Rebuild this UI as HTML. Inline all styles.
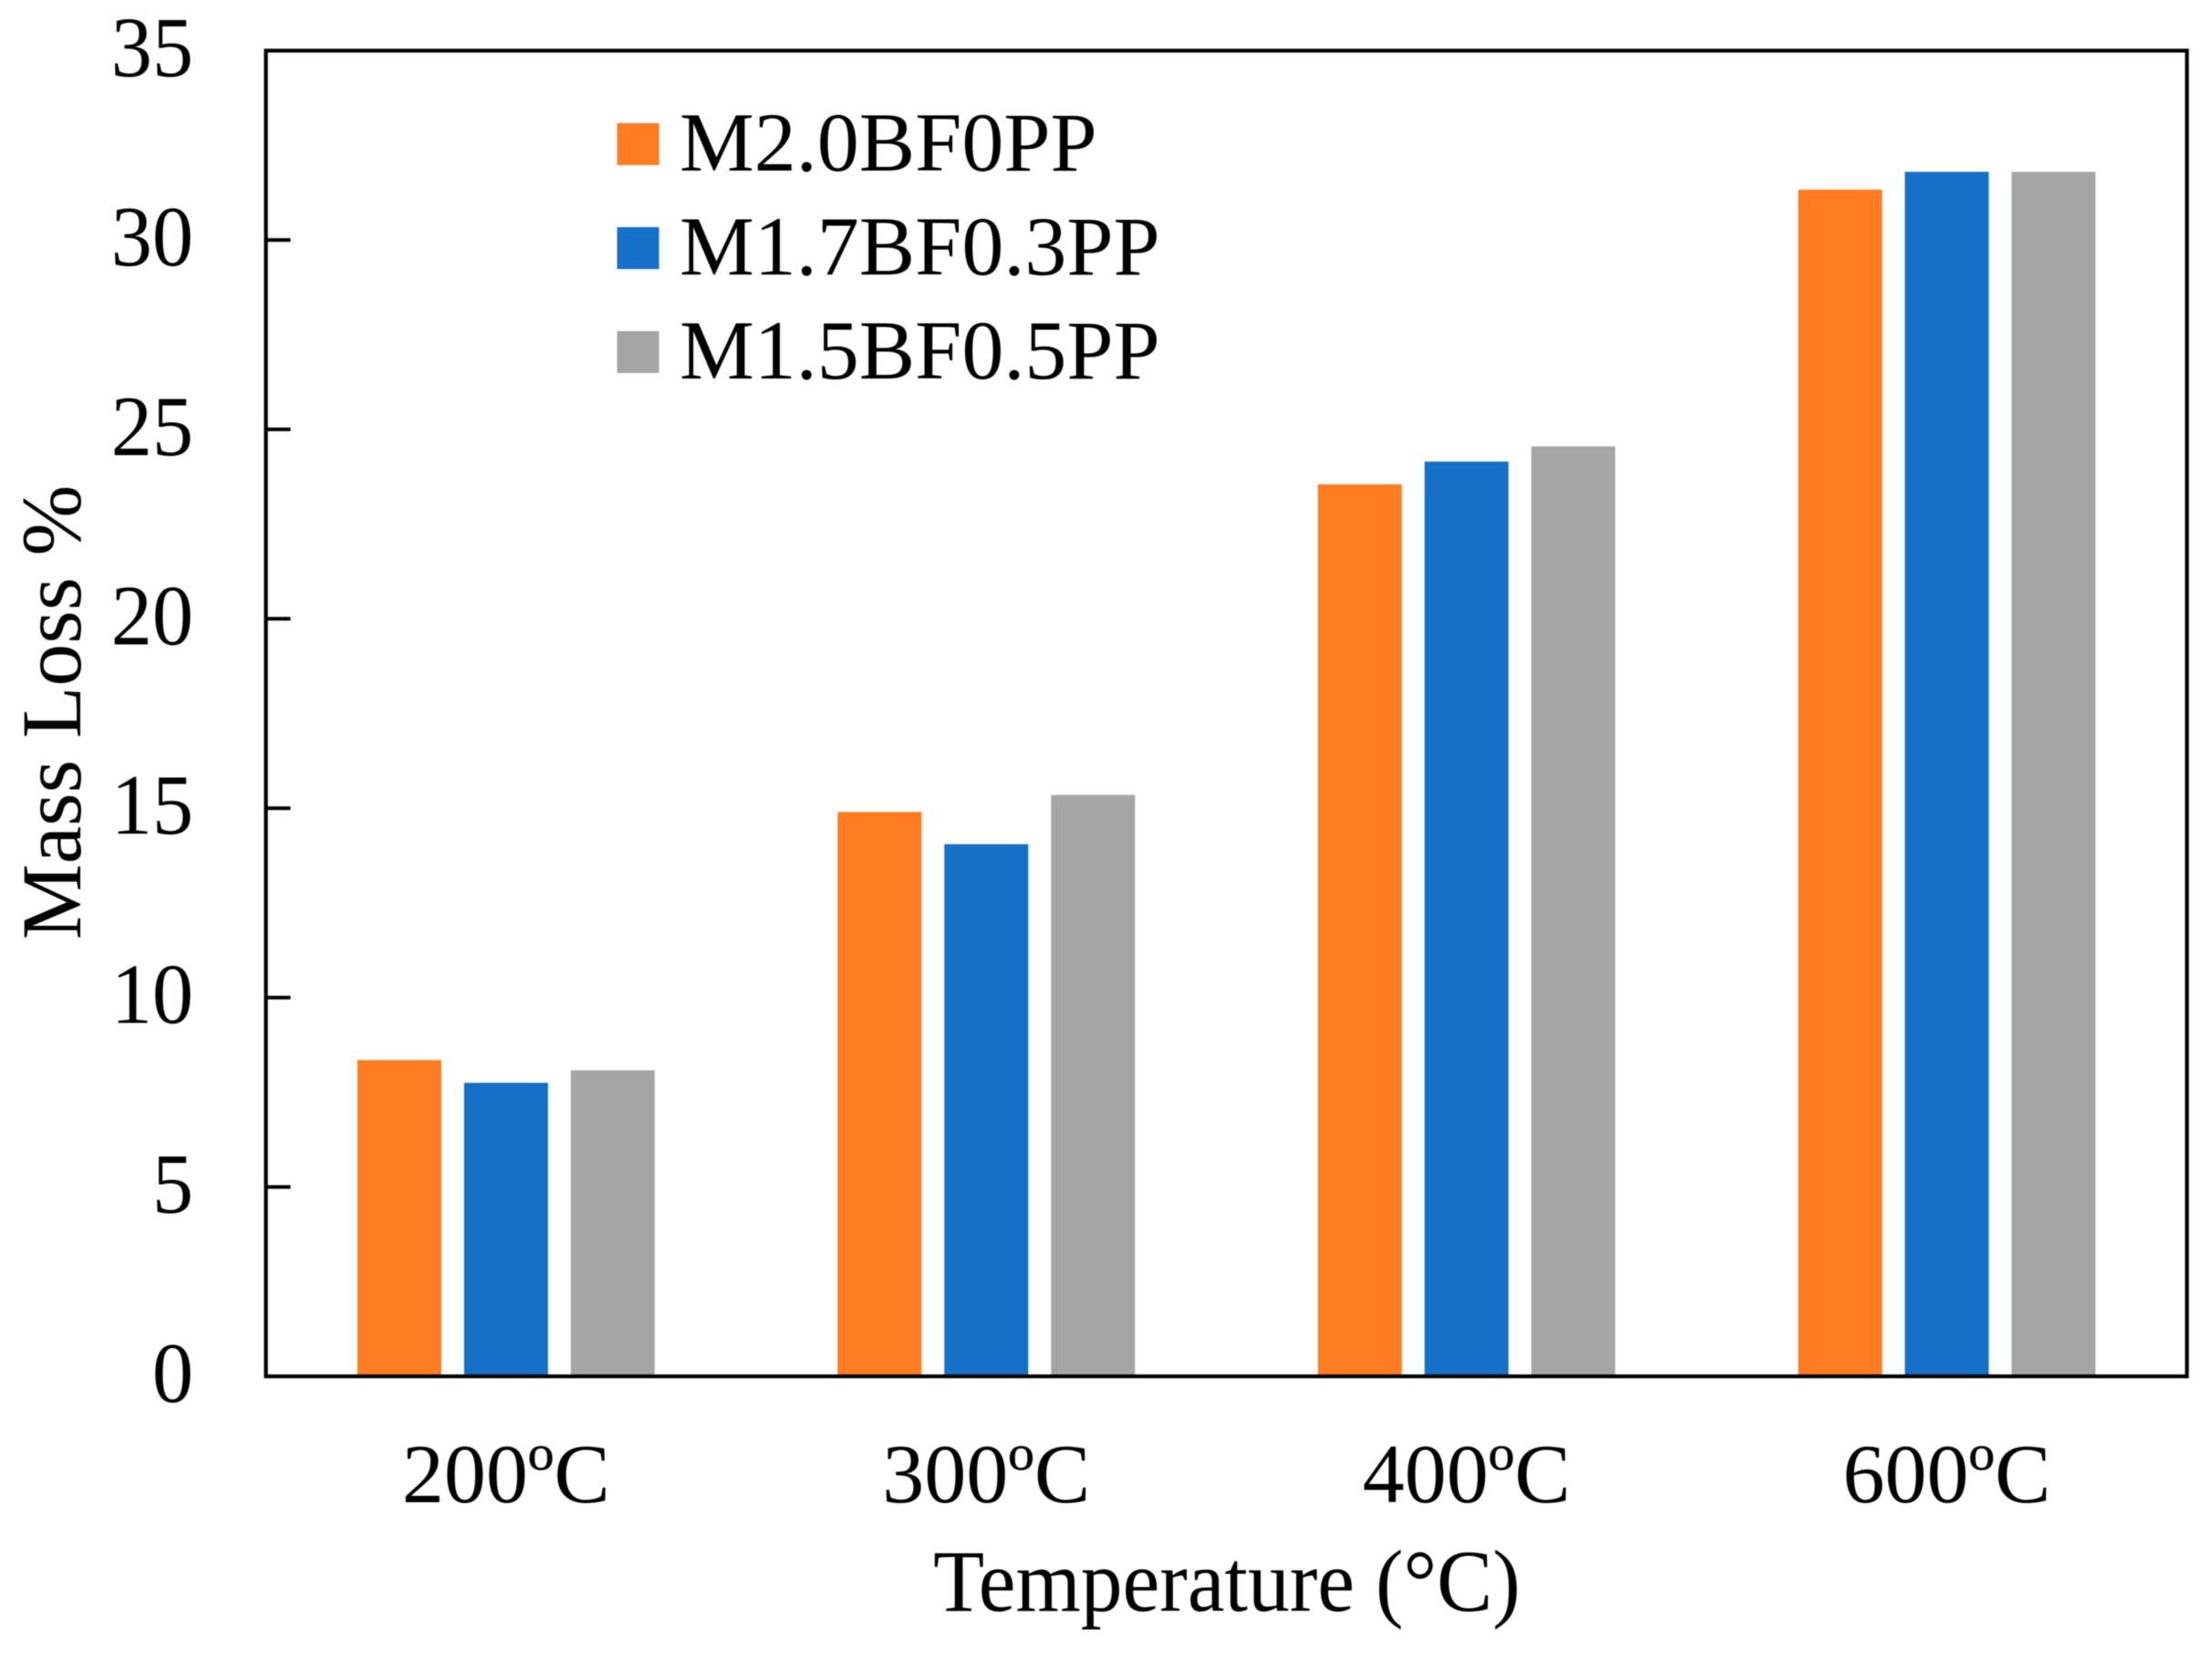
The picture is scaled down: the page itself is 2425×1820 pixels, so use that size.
<!DOCTYPE html>
<html lang="en">
<head>
<meta charset="utf-8">
<title>Mass Loss vs Temperature</title>
<style>
html,body{margin:0;padding:0;background:#fff;width:2425px;height:1820px;overflow:hidden}
svg{display:block;filter:blur(0.5px)}
text{font-family:"Liberation Serif",serif;fill:#000}
</style>
</head>
<body>
<svg id="chart" xmlns="http://www.w3.org/2000/svg" width="2425" height="1820" viewBox="0 0 2425 1820">
<rect x="0" y="0" width="2425" height="1820" fill="#fff"/>
<text x="0" y="0" font-size="93.5" text-anchor="middle" transform="translate(88 781) rotate(-90)">Mass Loss %</text>
<text x="0" y="0" font-size="96" text-anchor="middle" transform="translate(1345 1766) scale(0.955 1)">Temperature (°C)</text>
</svg>
<script>
const categories = ['200ºC', '300ºC', '400ºC', '600ºC'];
const seriesNames = ['M2.0BF0PP', 'M1.7BF0.3PP', 'M1.5BF0.5PP'];
const seriesM20 = [8.35, 14.9, 23.55, 31.33];
const seriesM17 = [7.75, 14.05, 24.15, 31.8];
const seriesM15 = [8.08, 15.35, 24.55, 31.8];
const yTicks = [0, 5, 10, 15, 20, 25, 30, 35];

const allSeries = [seriesM20, seriesM17, seriesM15];
const colors = ['#ff7c22', '#1670c8', '#a5a5a5'];
const NS = 'http://www.w3.org/2000/svg';
const svg = document.getElementById('chart');
const plot = {left: 291.5, right: 2397.5, top: 55.5, bottom: 1509};
const yMax = 35;
const barWidth = 92;
const barStep = 117;

function yScale(v) {
  return plot.bottom - (v / yMax) * (plot.bottom - plot.top);
}
function xCenter(i) {
  return plot.left + (i + 0.5) * (plot.right - plot.left) / categories.length;
}
function make(tag, attrs, text) {
  const el = document.createElementNS(NS, tag);
  for (const k in attrs) el.setAttribute(k, attrs[k]);
  if (text !== undefined) el.textContent = text;
  svg.appendChild(el);
  return el;
}

allSeries.forEach(function (values, s) {
  values.forEach(function (v, i) {
    const cx = xCenter(i) + (s - 1) * barStep;
    const top = yScale(v);
    const bar = make('rect', {x: cx - barWidth / 2, y: top, width: barWidth, height: plot.bottom - top, fill: colors[s]});
    
    
  });
});

yTicks.forEach(function (t) {
  const y = yScale(t);
  if (t > 0 && t < yMax) {
    const tick = make('line', {x1: plot.left, x2: plot.left + 27, y1: y, y2: y, stroke: '#000', 'stroke-width': 4});
    
    
  }
  const label = make('text', {x: 0, y: 0, 'font-size': 94, 'text-anchor': 'end', transform: 'translate(212 ' + (y + 28) + ') scale(0.96 1)'}, String(t));
  
  
});

const frame = make('rect', {x: plot.left, y: plot.top, width: plot.right - plot.left, height: plot.bottom - plot.top, fill: 'none', stroke: '#000', 'stroke-width': 4.2});



categories.forEach(function (c, i) {
  const label = make('text', {x: xCenter(i), y: 1647, 'font-size': 92, 'text-anchor': 'middle'}, c);
  
  
});

seriesNames.forEach(function (name, s) {
  const swatchY = 135 + s * 114;
  const swatch = make('rect', {x: 676.5, y: swatchY, width: 46, height: 46, fill: colors[s]});
  
  
  const label = make('text', {x: 745, y: 187 + s * 114, 'font-size': 92}, name);
  
  
});
</script>
</body>
</html>
